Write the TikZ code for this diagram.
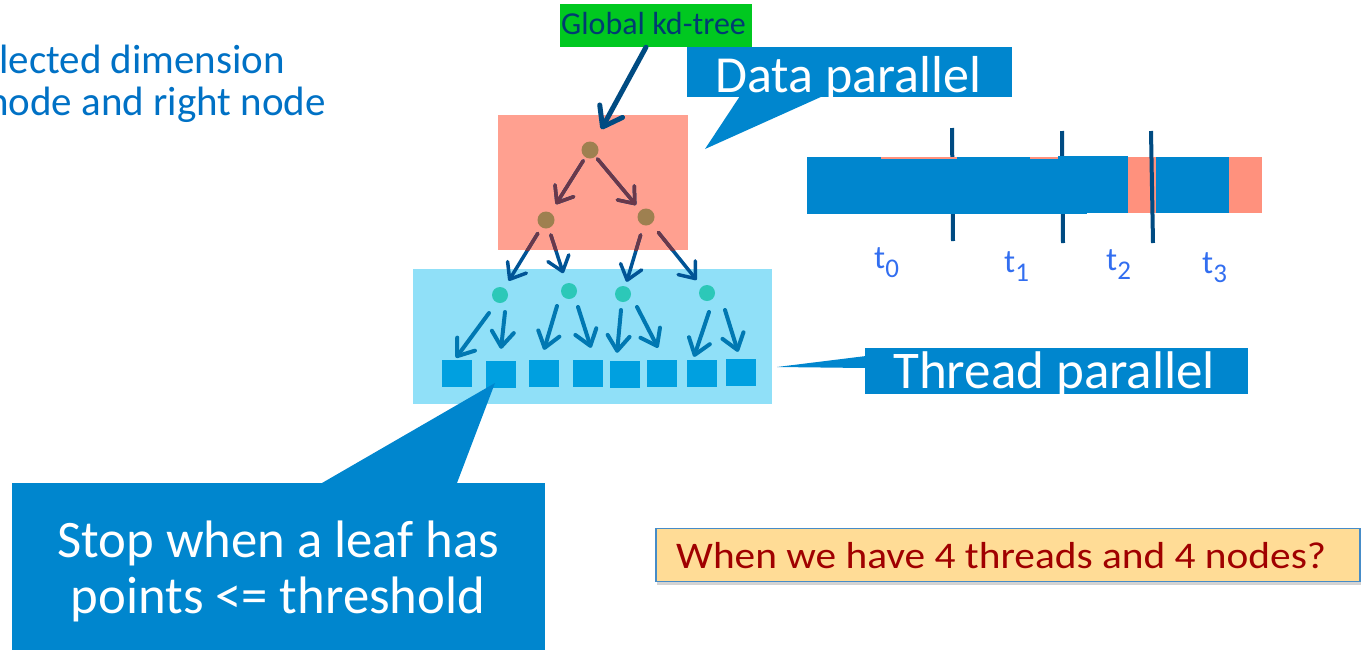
\documentclass[tikz,border=0pt]{standalone}
\usepackage{fontspec}
\setmainfont{Carlito}
\newfontfamily\qfont[FakeStretch=1.1]{Carlito}
\usetikzlibrary{arrows.meta,shadows,calc}
\definecolor{intelblue}{RGB}{0,113,197}
\definecolor{callblue}{RGB}{0,134,206}
\definecolor{kdgreen}{RGB}{0,200,32}
\definecolor{kdtext}{RGB}{0,60,113}
\definecolor{darkline}{RGB}{0,75,130}
\definecolor{salmon}{RGB}{255,160,144}
\definecolor{barsalmon}{RGB}{255,145,125}
\definecolor{lightblue}{RGB}{144,224,248}
\definecolor{rootcol}{RGB}{158,128,80}
\definecolor{tealcol}{RGB}{44,200,184}
\definecolor{leafcol}{RGB}{0,160,224}
\definecolor{maroonc}{RGB}{105,56,74}
\definecolor{arrblue}{RGB}{0,84,150}
\definecolor{arrblue2}{RGB}{0,120,178}
\definecolor{tlabel}{RGB}{50,110,240}
\definecolor{qfill}{RGB}{255,220,150}
\definecolor{qborder}{RGB}{70,140,200}
\definecolor{qtext}{RGB}{160,0,0}
\tikzset{
  fs/.style={font=\fontsize{#1}{#1}\selectfont},
  txt/.style={anchor=base west,inner sep=0pt},
  treenode/.style={circle,inner sep=0pt,minimum size=17pt},
  leafbox/.style={rectangle,inner sep=0pt,fill=leafcol,minimum width=30pt,minimum height=27pt},
  tarr/.style={line width=3.5pt,line cap=round,line join=round,shorten <=7pt,shorten >=8pt,
     -{Straight Barb[length=14pt,width=22pt,line width=3.5pt,round]}},
  larr/.style={line width=4pt,line cap=round,line join=round,draw=arrblue2,
     -{Straight Barb[length=15pt,width=22pt,line width=4pt,round]}},
  bigarr/.style={line width=5pt,line cap=round,line join=round,draw=darkline,
     -{Straight Barb[length=18pt,width=26pt,line width=5pt,round]}},
  callout/.style={fill=callblue,inner sep=0pt},
  tick/.style={draw=darkline,line width=4pt},
  tlab/.style={txt,text=tlabel,fs=33},
}
\newcommand\kdTreeArrows[1]{%
  \draw[tarr,draw=#1,shorten <=4pt,shorten >=10pt] (r) -- (a);
  \draw[tarr,draw=#1,shorten <=3pt,shorten >=7pt] (r) -- (b);
  \draw[tarr,draw=#1] (a) -- (c1);
  \draw[tarr,draw=#1,shorten >=10pt] (a) -- (c2);
  \draw[tarr,draw=#1,shorten <=10pt,shorten >=4pt] (b) -- (c3);
  \draw[tarr,draw=#1,shorten <=11pt] (b) -- (c4);
}
\newcommand\tsub[1]{\raisebox{-9pt}{\fontsize{27}{27}\selectfont #1}}
\begin{document}
\begin{tikzpicture}[x=1pt,y=-1pt]
\useasboundingbox (0,0) rectangle (1363,649);
% left partial text (cut at the left edge, as in the reference)
\node[txt,text=intelblue,fs=41] (tx1) at (-1,73) {lected dimension};
\node[txt,text=intelblue,fs=41] (tx2) at (-13,115) {node and right node};
% background boxes
\node[fill=salmon,inner sep=0pt,minimum width=190pt,minimum height=135pt] (datab) at (593,182.5) {};
\node[fill=lightblue,inner sep=0pt,minimum width=359pt,minimum height=135pt] (threadb) at (592.5,336.5) {};
% tree nodes
\node[treenode] (r) at (590,150) {};
\node[treenode] (a) at (546,220) {};
\node[treenode] (b) at (646,217) {};
\node[treenode] (c1) at (500,295) {};
\node[treenode] (c2) at (569,291) {};
\node[treenode] (c3) at (623,294) {};
\node[treenode] (c4) at (707,293) {};
% leaves
\node[leafbox] (l1) at (457,373.5) {};
\node[leafbox] (l2) at (501,374.5) {};
\node[leafbox] (l3) at (544,373.5) {};
\node[leafbox] (l4) at (588,373.5) {};
\node[leafbox] (l5) at (625,374.5) {};
\node[leafbox] (l6) at (662,373.5) {};
\node[leafbox] (l7) at (702,373.5) {};
\node[leafbox] (l8) at (741,372.5) {};
% tree arrows
\kdTreeArrows{arrblue}
\begin{scope}
  \clip (498,115) rectangle (688,250);
  \kdTreeArrows{maroonc}
\end{scope}
\draw[larr] ($(c1)+(-11,18)$) -- ($(l1.north)+(-1,-2)$);
\draw[larr] ($(c1)+(5,17)$)   -- ($(l2.north)+(0,-12)$);
\draw[larr] ($(c2)+(-12,15)$) -- ($(l3.north)+(0,-10)$);
\draw[larr] ($(c2)+(9,16)$)   -- ($(l4.north)+(3,-12)$);
\draw[larr] ($(c3)+(-2,16)$)  -- ($(l5.north)+(-8,-8)$);
\draw[larr] ($(c3)+(14,13)$)  -- ($(l6.north)+(-4,-12)$);
\draw[larr] ($(c4)+(2,19)$)   -- ($(l7.north)+(-8,-3)$);
\draw[larr] ($(c4)+(18,17)$)  -- ($(l8.north)+(-3,-7)$);
% node fills
\fill[rootcol] (r) circle (8.5);
\fill[rootcol] (a) circle (8.5);
\fill[rootcol] (b) circle (8.5);
\foreach \n in {c1,c2,c3,c4} \fill[tealcol] (\n) circle (8);
% global kd-tree label
\node[fill=kdgreen,inner sep=0pt,minimum width=192pt,minimum height=43pt] (kd) at (656,25.5) {};
\node[txt,text=kdtext,fs=32] (kdt) at (561,34) {Global kd-tree};
\draw[bigarr,shorten >=15pt] (kd.south) ++(-10,0) coordinate (kds) -- (r);
% Data parallel callout
\fill[callblue] (740,96) -- (705,149) -- (823,96) -- cycle;
\node[callout,minimum width=325pt,minimum height=50pt] (dp) at (849.5,72) {};
\node[txt,text=white,fs=52] (dpt) at (715,92) {Data parallel};
% Thread parallel callout
\fill[callblue] (866,356) -- (777,367) -- (866,368) -- cycle;
\node[callout,minimum width=383pt,minimum height=46pt] (tp) at (1056.5,371) {};
\begin{scope}
  \clip (tp.south west) rectangle (tp.north east);
  \node[txt,text=white,fs=53] (tpt) at (893,388) {Thread parallel};
\end{scope}
% Stop callout
\fill[callblue] (322,483) -- (495,383) -- (457,483) -- cycle;
\node[callout,minimum width=533pt,minimum height=167pt] (stop) at (278.5,566.5) {};
\node[anchor=base,inner sep=0pt,text=white,fs=52.7] (st1) at (278.5,557) {Stop when a leaf has};
\node[anchor=base,inner sep=0pt,text=white,fs=52.7] (st2) at (278,613) {points <= threshold};
% bar
\draw[tick] (952,128) -- (953,241);
\draw[tick] (1062,131) -- (1063,243);
\fill[barsalmon] (881,157) rectangle (1262,213);
\fill[callblue] (807,159) rectangle (1087,214);
\fill[callblue] (807,157) rectangle (881,160);
\fill[callblue] (957,157) rectangle (1030,160);
\fill[callblue] (1058,156) rectangle (1128,213);
\fill[callblue] (1156,157) rectangle (1229,213);
\draw[tick] (1151,131) -- (1153,243);
\node[tlab] (t0) at (874,268) {t\tsub{0}};
\node[tlab] (t1) at (1004,272) {t\tsub{1}};
\node[tlab] (t2) at (1106,270) {t\tsub{2}};
\node[tlab] (t3) at (1202,273) {t\tsub{3}};
% question box
\node[fill=qfill,draw=qborder,line width=1.3pt,minimum width=704pt,minimum height=53pt,inner sep=0pt,
  drop shadow={shadow xshift=1pt,shadow yshift=-3pt,opacity=0.35}] (q) at (1008,555) {};
\node[txt,text=qtext,font=\qfont\fontsize{37.6}{37.6}\selectfont] (qt) at (676,568) {When we have 4 threads and 4 nodes?};
\end{tikzpicture}
\end{document}
